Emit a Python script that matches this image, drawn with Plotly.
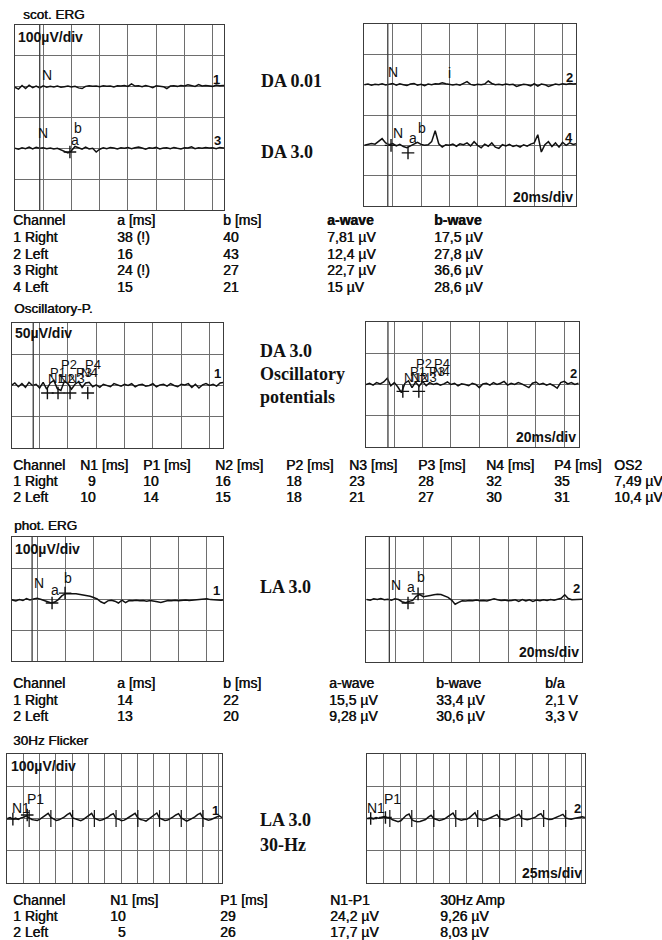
import plotly.graph_objects as go

W, H = 662, 940

# ============================ DATA ============================
# Scotopic ERG (DA 0.01 / DA 3.0), 20 ms/div, 100 uV/div; samples every 2.5 ms from -20 ms (uV)
SCOT_T0, SCOT_DT = -20.0, 2.5
SCOT_CH1 = [-2, -8, 4, -6, 5, -3, 2, -4, 3, -2,
            1, -1, 2, -2, 0, 2, -1, 1, -4, -6,
            1, 3, 1, 2, 0, 3, 1, 2, -1, 3,
            2, 4, 1, 9, 2, 3, 0, 4, 1, -3,
            3, 2, 0, -6, 2, 3, 1, 4, 2, 6,
            3, 1, 7, 2, 4, 3, 1, 5, 3, 4,
            4]
SCOT_CH3 = [0, -3, 2, -1, 4, -2, 3, 0, 2, -1,
            1, -2, 0, -5, -10, -15, -8, 6, 2, -3,
            4, -2, 0, -12, -3, 2, -1, 3, 1, -2,
            2, 0, 3, -1, 2, 4, 1, -3, 2, 0,
            3, -2, 1, 2, -1, 3, 0, -2, 2, 1,
            5, -1, 2, 0, 3, 1, 2, -1, 3, 1,
            2]
SCOT_CH2 = [0, 2, -2, 1, 0, 3, -1, 2, 4, -2,
            3, 0, -3, 2, 4, -2, 1, -3, 2, 0,
            3, 2, 6, 3, 2, -1, 1, -2, 4, 10,
            1, -2, 1, 0, 2, 12, 4, 0, 1, -1,
            2, 0, 1, -6, -2, 1, 0, -4, 3, -5,
            2, 0, -6, -1, 2, 0, 3, 1, 4, 2,
            3]
SCOT_CH4 = [0, 3, 6, 4, 12, 22, 8, 2, 6, -2,
            3, -4, -8, -3, 4, 10, 3, 0, 2, 12,
            48, 5, -6, 2, 0, 4, -3, 5, 2, 8,
            -2, 12, 0, -8, 4, -3, 8, -6, -10, 2,
            -2, 3, -4, 0, -6, 2, -3, 4, 8, 35,
            -22, 2, 12, -4, 8, -6, 10, 0, 8, 3,
            6]

# Oscillatory potentials, 20 ms/div, 50 uV/div
OP_CH1 = [0, 4, -2, 3, -3, 5, 0, 2, -4, 5,
          -6, 4, 8, -5, -8, 7, 3, -6, 2, 6,
          -3, 4, 5, -2, 1, -3, 2, 0, -2, 3,
          1, -1, 2, 0, 3, -2, 1, 2, -1, 0,
          3, -2, 1, 2, -1, 3, 0, -2, 2, 1,
          3, -3, 2, -4, 1, 3, 0, 2, -1, 4,
          5]
OP_CH2 = [0, 2, -1, 3, 1, 4, 10, -2, 3, -4,
          -13, 2, 6, -5, 4, -3, 5, -2, 3, 0,
          2, -1, 1, 4, 0, 2, -2, 1, 0, -2,
          2, 0, -5, 1, 2, -1, 3, 0, 2, 5,
          -1, 2, 0, 3, 1, -2, -5, 2, 4, 0,
          2, -1, 1, -2, -6, 3, 5, 1, 3, 0,
          2]

# Photopic ERG (LA 3.0), 20 ms/div, 100 uV/div
PHOT_CH1 = [0, -2, -6, -2, -5, 1, -3, 0, 2, -1,
            -4, -9, -13, -10, -2, 10, 17, 18, 17, 17,
            15, 14, 12, 9, 5, 0, -9, -14, -6, -4,
            -7, -13, -4, -12, -5, -6, -4, -6, -5, -7,
            -5, -6, -9, -11, -7, -5, -6, -4, -6, -5,
            -3, -5, -4, -2, -3, -1, 1, -2, -3, -4,
            -4, -3]
PHOT_CH2 = [0, -2, 2, 0, 3, -1, 1, -2, 2, 0,
            -7, -10, -6, -3, 10, 16, 9, 10, 13, 15,
            17, 16, 12, 7, -2, -15, -9, -4, -5, -3,
            -4, -2, -4, -3, -5, -2, 2, -1, -3, -2,
            -4, -3, -1, -6, 0, -5, -1, -6, -2, -4,
            -1, -3, 0, -2, 1, 4, 15, 3, -1, 0,
            0, 1]

# 30 Hz flicker, 25 ms/div, 100 uV/div; samples every 4.1667 ms from -24.33 ms
FLK_T0, FLK_DT = -24.33, 4.1667
FLK_CH1 = [0, 3, -2, 1, -3, 2, 4, 8,
           2, -3, -5, -6, -2, 4, 10, 16,
           3, -2, -6, -4, 0, 5, 12, 17,
           2, -1, -4, -7, -3, 3, 9, 16,
           1, -3, -6, -4, -1, 4, 11, 15,
           0, -2, -7, -5, 0, 6, 12, 16,
           2, -3, -5, -8, -2, 4, 10, 17,
           1, -2, -6, -5, -1, 5, 11, 15,
           2, -3, -8, -4, 0, 5, 12, 16,
           1, -2, -5, -3, 0, 4, 8, 3]
FLK_CH2 = [0, 2, -1, 3, 1, 4, 6, 3,
           1, -4, -8, -10, -7, 2, 10, 14,
           -4, -8, -10, -9, -6, -3, 4, 10,
           0, -3, -6, -4, -1, 5, 12, 17,
           1, -2, -5, -3, -2, 3, 10, 18,
           0, -4, -6, -4, -1, 4, 8, 12,
           0, -3, -5, -3, 0, 3, 8, 13,
           1, -2, -4, -2, 0, 4, 11, 15,
           2, -1, -3, -2, 1, 4, 9, 13,
           2, -1, -2, 0, 1, 3, 5, 3]
FLK_FLASH_MS = [9, 42.3, 75.7, 109, 142.3, 175.7, 209, 242.3, 275.7]

# Result tables
T1_HEAD = ["Channel", "a [ms]", "b [ms]", "a-wave", "b-wave"]
T1_ROWS = [["1 Right", "38 (!)", "40", "7,81 \u00b5V", "17,5 \u00b5V"],
           ["2 Left", "16", "43", "12,4 \u00b5V", "27,8 \u00b5V"],
           ["3 Right", "24 (!)", "27", "22,7 \u00b5V", "36,6 \u00b5V"],
           ["4 Left", "15", "21", "15 \u00b5V", "28,6 \u00b5V"]]
T2_HEAD = ["Channel", "N1 [ms]", "P1 [ms]", "N2 [ms]", "P2 [ms]", "N3 [ms]",
           "P3 [ms]", "N4 [ms]", "P4 [ms]", "OS2"]
T2_ROWS = [["1 Right", "9", "10", "16", "18", "23", "28", "32", "35", "7,49 \u00b5V"],
           ["2 Left", "10", "14", "15", "18", "21", "27", "30", "31", "10,4 \u00b5V"]]
T3_HEAD = ["Channel", "a [ms]", "b [ms]", "a-wave", "b-wave", "b/a"]
T3_ROWS = [["1 Right", "14", "22", "15,5 \u00b5V", "33,4 \u00b5V", "2,1 V"],
           ["2 Left", "13", "20", "9,28 \u00b5V", "30,6 \u00b5V", "3,3 V"]]
T4_HEAD = ["Channel", "N1 [ms]", "P1 [ms]", "N1-P1", "30Hz Amp"]
T4_ROWS = [["1 Right", "10", "29", "24,2 \u00b5V", "9,26 \u00b5V"],
           ["2 Left", "5", "26", "17,7 \u00b5V", "8,03 \u00b5V"]]

OP_NAMES = ["N1", "P1", "N2", "P2", "N3", "P3", "N4", "P4"]

# ============================ STYLE / LAYOUT ============================
INK = "#111111"
GRID = "#6e6e6e"
BOX = "#3c3c3c"
SANS = "Liberation Sans, Arial, sans-serif"
SERIF = "Liberation Serif, Times New Roman, serif"
TABLE_SIZE = 14
HEAVY = "0.45px 0px 0px #111111"   # slight thickening like the scanned print

# panel boxes in page pixels: (left, right, top, bottom)
PANELS = [
    dict(box=(15, 224, 25, 210), xr=[-20, 128], xd=20, yr=[-300, 300], yd=100, stim=-2.5),
    dict(box=(364, 576, 24, 206), xr=[-20.3, 129.5], xd=20, yr=[-300, 300], yd=100, stim=-3.5),
    dict(box=(12, 223, 323, 448), xr=[-19.5, 129.5], xd=20, yr=[-100, 100], yd=50, stim=-4.5),
    dict(box=(366, 579, 322, 447), xr=[-20, 130.4], xd=20, yr=[-100, 100], yd=50, stim=-4.5),
    dict(box=(12, 223, 537, 661), xr=[-17.7, 131.4], xd=20, yr=[-200, 200], yd=100, stim=-3.5),
    dict(box=(366, 582, 537, 662), xr=[-20.5, 132.2], xd=20, yr=[-200, 200], yd=100, stim=-4.0),
    dict(box=(7, 222, 754, 883), xr=[-25, 304.8], xd=25, yr=[-200, 200], yd=100, stim=None),
    dict(box=(367, 585, 754, 883), xr=[-25.6, 305], xd=25, yr=[-200, 200], yd=100, stim=None),
]

# (panel, values, x0, dx, baseline offset)
TRACES = [
    (1, SCOT_CH1, SCOT_T0, SCOT_DT, 100), (1, SCOT_CH3, SCOT_T0, SCOT_DT, -100),
    (2, SCOT_CH2, SCOT_T0, SCOT_DT, 100), (2, SCOT_CH4, SCOT_T0, SCOT_DT, -100),
    (3, OP_CH1, SCOT_T0, SCOT_DT, 0), (4, OP_CH2, SCOT_T0, SCOT_DT, 0),
    (5, PHOT_CH1, SCOT_T0, SCOT_DT, 0), (6, PHOT_CH2, SCOT_T0, SCOT_DT, 0),
    (7, FLK_CH1, FLK_T0, FLK_DT, 0), (8, FLK_CH2, FLK_T0, FLK_DT, 0),
]

# cursor labels (panel, text, ms, uV) and cursor crosses (panel, ms, uV)
MARK_LABELS = [
    (1, "N", 2.6, 138), (1, "N", 0, -50), (1, "b", 24.5, -34), (1, "a", 22.4, -73),
    (2, "N", 0.5, 142), (2, "i", 40, 140), (2, "N", 3.7, -59), (2, "a", 14.3, -76), (2, "b", 20.5, -43),
    (5, "N", 1.4, 52), (5, "a", 12.7, 29), (5, "b", 21.9, 68),
    (6, "N", 0.7, 46), (6, "a", 11.3, 40), (6, "b", 18.6, 72),
    (7, "N1", -3.5, 34), (7, "P1", 18, 62),
    (8, "N1", -11.7, 34), (8, "P1", 13.3, 62),
]
CROSSES = [
    (1, 18.9, -112), (2, -1.2, -100), (2, 10.8, -125),
    (3, 5.5, -12), (3, 13, -12), (3, 21.5, -12), (3, 34, -12),
    (4, 6, -11), (4, 17.3, -11),
    (5, 10.6, -13), (5, 19.8, 19), (6, 9.2, -11), (6, 16.3, 18),
    (7, -16, -2), (7, 6, 11), (8, -20, 0), (8, 2.4, 3),
]
CHANNEL_TAGS = [
    (1, "1", 122.8, 122), (1, "3", 123.5, -73), (2, "2", 124.7, 125), (2, "4", 124.7, -73),
    (3, "1", 125.5, 20), (4, "2", 126.6, 18), (5, "1", 127, 29), (6, "2", 128, 34),
    (7, "1", 295, 25), (8, "2", 294, 31),
]
# OP label rows (uV above trace) and offset of label centre from latency
OP_ROW = {"P2": 34, "P4": 34, "P1": 21, "P3": 21, "N4": 21, "N1": 12, "N2": 12, "N3": 12}
OP_SHIFT = 3

SECTION_TITLES = [("scot. ERG", 21, 15), ("Oscillatory-P.", 12, 309),
                  ("phot. ERG", 12, 525), ("30Hz Flicker", 11, 740)]
SCALE_Y = [("100\u00b5V/div", 16, 37), ("50\u00b5V/div", 13, 333),
           ("100\u00b5V/div", 13, 549), ("100\u00b5V/div", 9, 766)]
SCALE_X = [("20ms/div", 575, 197), ("20ms/div", 578, 437),
           ("20ms/div", 581, 652), ("25ms/div", 584, 873)]
PROTOCOL = [("DA 0.01", 259, 81), ("DA 3.0", 259, 152),
            ("DA 3.0", 258, 351), ("Oscillatory", 258, 374), ("potentials", 258, 397),
            ("LA 3.0", 258, 587),
            ("LA 3.0", 258, 820), ("30-Hz", 258, 845)]

TABLES = [
    (T1_HEAD, T1_ROWS, [11, 115, 221, 325, 432], [220, 237, 254, 270, 287], {3, 4}),
    (T2_HEAD, T2_ROWS, [11, 78, 141, 213, 284, 347, 416, 484, 552, 612], [465, 481, 497], set()),
    (T3_HEAD, T3_ROWS, [11, 115, 221, 327, 434, 543], [683, 700, 716], set()),
    (T4_HEAD, T4_ROWS, [11, 108, 218, 328, 438], [900, 916, 932], set()),
]

# ============================ BUILD ============================
def sfx(i):
    return "" if i == 1 else str(i)


def px(x):
    return x / W


def py(y):
    return 1 - y / H


fig = go.Figure()
layout = dict(width=W, height=H, margin=dict(l=0, r=0, t=0, b=0, pad=0),
              paper_bgcolor="white", plot_bgcolor="white", showlegend=False,
              hovermode=False, autosize=False)
shapes, annotations = [], []

axis_common = dict(showgrid=True, gridcolor=GRID, gridwidth=1, zeroline=False,
                   showticklabels=False, ticks="", showline=True, linecolor=BOX,
                   linewidth=1.4, mirror=True, fixedrange=True, tick0=0)

for i, p in enumerate(PANELS, start=1):
    l, r, t, b = p["box"]
    s = sfx(i)
    layout["xaxis" + s] = dict(axis_common, domain=[px(l), px(r)], range=p["xr"],
                               dtick=p["xd"], anchor="y" + s)
    layout["yaxis" + s] = dict(axis_common, domain=[py(b), py(t)], range=p["yr"],
                               dtick=p["yd"], anchor="x" + s)
    if p["stim"] is not None:
        shapes.append(dict(type="line", xref="x" + s, yref="y" + s + " domain",
                           x0=p["stim"], x1=p["stim"], y0=0, y1=1,
                           line=dict(color=BOX, width=1.3)))

for panel, vals, x0, dx, off in TRACES:
    s = sfx(panel)
    fig.add_trace(go.Scatter(x0=x0, dx=dx, y=[v + off for v in vals], mode="lines",
                             line=dict(color=INK, width=1.5), xaxis="x" + s, yaxis="y" + s,
                             hoverinfo="skip"))

# flicker stimulus ticks
for panel in (7, 8):
    s = sfx(panel)
    xs, ys = [], []
    for tm in FLK_FLASH_MS:
        xs += [tm, tm, None]
        ys += [-26, 26, None]
    fig.add_trace(go.Scatter(x=xs, y=ys, mode="lines", line=dict(color=INK, width=1.2),
                             xaxis="x" + s, yaxis="y" + s, hoverinfo="skip"))

# cursor crosses
for panel in range(1, 9):
    pts = [c for c in CROSSES if c[0] == panel]
    if not pts:
        continue
    s = sfx(panel)
    fig.add_trace(go.Scatter(x=[c[1] for c in pts], y=[c[2] for c in pts], mode="markers",
                             marker=dict(symbol="cross-thin", size=9,
                                         line=dict(color=INK, width=1.4)),
                             xaxis="x" + s, yaxis="y" + s, hoverinfo="skip"))


def data_text(panel, text, x, y, size=13, bold=False, anchor="center"):
    s = sfx(panel)
    annotations.append(dict(xref="x" + s, yref="y" + s, x=x, y=y, text=text,
                            showarrow=False, xanchor=anchor, yanchor="middle",
                            font=dict(family=SANS, size=size, color=INK,
                                      weight="bold" if bold else "normal")))


for panel, text, x, y in MARK_LABELS:
    data_text(panel, text, x, y, size=14)
for panel, text, x, y in CHANNEL_TAGS:
    data_text(panel, text, x, y, size=13, bold=True)

# oscillatory potential labels from the latency table
for panel, row in ((3, T2_ROWS[0]), (4, T2_ROWS[1])):
    for name, lat in zip(OP_NAMES, row[1:9]):
        data_text(panel, name, float(lat) + OP_SHIFT, OP_ROW[name], size=13)


def page_text(text, x, y, family, size, bold=False, anchor="left", shadow=None):
    font = dict(family=family, size=size, color=INK, weight="bold" if bold else "normal")
    if shadow:
        font["shadow"] = shadow
    annotations.append(dict(xref="paper", yref="paper", x=px(x), y=py(y), text=text,
                            showarrow=False, xanchor=anchor, yanchor="middle", font=font))


for text, x, y in SECTION_TITLES:
    page_text(text, x, y, SANS, 13.5, shadow=HEAVY)
for text, x, y in SCALE_Y:
    page_text(text, x, y, SANS, 14, bold=True)
for text, x, y in SCALE_X:
    page_text(text, x, y, SANS, 14, bold=True, anchor="right")
for text, x, y in PROTOCOL:
    page_text(text, x, y, SERIF, 18, bold=True)

for head, rows, xs, ys, bold_cols in TABLES:
    for j, h in enumerate(head):
        page_text(h, xs[j], ys[0], SANS, TABLE_SIZE, bold=(j in bold_cols), shadow=HEAVY)
    for r, row in enumerate(rows):
        for j, cell in enumerate(row):
            txt = "\u2007" + cell if (cell.isdigit() and len(cell) == 1) else cell
            page_text(txt, xs[j], ys[r + 1], SANS, TABLE_SIZE, shadow=HEAVY)

layout["shapes"] = shapes
layout["annotations"] = annotations
fig.update_layout(**layout)
fig.write_html("out.html", config={"displayModeBar": False},
               post_script="document.body.style.margin='0';"
                           "document.body.style.overflow='hidden';")
